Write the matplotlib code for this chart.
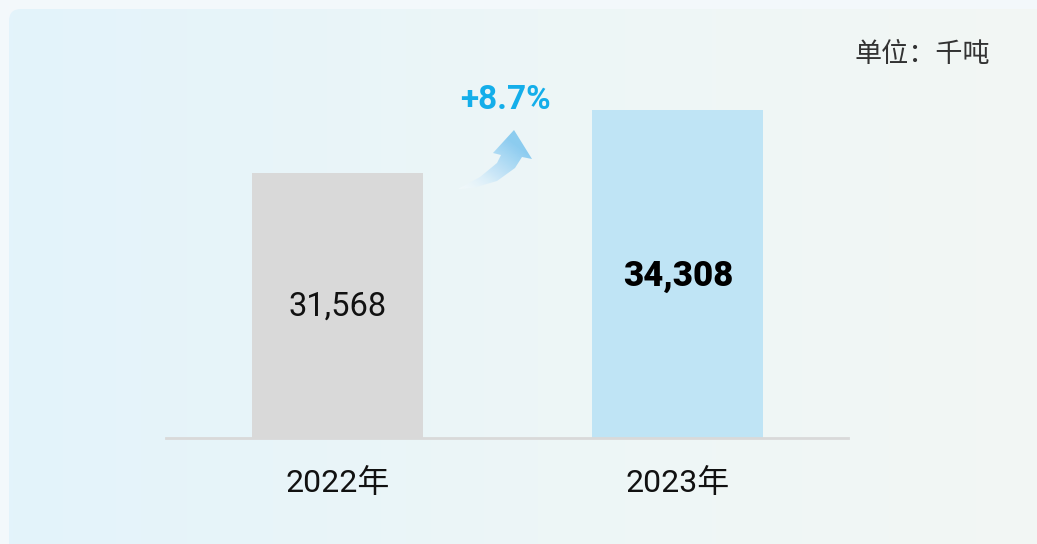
import numpy as np
import matplotlib.pyplot as plt
from matplotlib.patches import FancyBboxPatch, PathPatch
from matplotlib.path import Path
from matplotlib.colors import LinearSegmentedColormap

plt.rcParams['font.family'] = ['Roboto', 'Noto Sans CJK SC', 'DejaVu Sans']

years = ['2022年', '2023年']
values = [31568, 34308]
value_labels = ['31,568', '34,308']
bar_colors = ['#d9d9d9', '#bfe4f5']
growth = '+8.7%'
unit = '单位：千吨'

W, H = 1037, 544
fig = plt.figure(figsize=(W / 100, H / 100), dpi=100)
fig.patch.set_facecolor('#f3f8fb')

# background panel with gradient
bg = fig.add_axes([0, 0, 1, 1])
bg.set_xlim(0, W)
bg.set_ylim(H, 0)
bg.axis('off')
grad = np.linspace(0, 1, 256).reshape(1, -1)
cmap_bg = LinearSegmentedColormap.from_list('bg', ['#e3f3fb', '#edf6f7', '#f3f7f4'])
im = bg.imshow(grad, cmap=cmap_bg, extent=[9, W + 30, H + 30, 9], aspect='auto', zorder=1)
panel = FancyBboxPatch((9, 9), W + 20, H + 20, boxstyle='round,pad=0,rounding_size=12',
                       transform=bg.transData, facecolor='none', edgecolor='none')
bg.add_patch(panel)
im.set_clip_path(panel)

# curved growth arrow (decoration)
verts = [(458, 189), (480, 177), (497, 163), (501, 155), (493, 153), (514, 130),
         (532, 159), (522, 157), (515, 168), (497, 181), (473, 188), (458, 189)]
arrow_path = Path(verts, [Path.MOVETO] + [Path.LINETO] * (len(verts) - 2) + [Path.CLOSEPOLY])
arrow_patch = PathPatch(arrow_path, facecolor='none', edgecolor='none', transform=bg.transData)
bg.add_patch(arrow_patch)
cmap_ar = LinearSegmentedColormap.from_list(
    'ar', [(1, 1, 1, 0.4), (0.78, 0.90, 0.97, 0.9), (0.55, 0.80, 0.94, 1.0)])
gx, gy = np.meshgrid(np.linspace(0, 1, 100), np.linspace(0, 1, 100))
gimg = np.clip((gx + (1 - gy)) / 1.5, 0, 1)
aim = bg.imshow(gimg, cmap=cmap_ar, extent=[455, 535, 190, 128], origin='upper', aspect='auto', zorder=3)
aim.set_clip_path(arrow_patch)

# bar chart
ax = fig.add_axes([0.160, 0.195, 0.658, 0.695])
ax.patch.set_alpha(0)
x = np.arange(len(years))
ax.bar(x, values, width=0.503, color=bar_colors, zorder=2)
ax.set_xlim(-0.504, 1.501)
ax.set_ylim(20042, 36484)
for s in ['top', 'right', 'left']:
    ax.spines[s].set_visible(False)
ax.spines['bottom'].set_color('#d9d9d9')
ax.spines['bottom'].set_linewidth(2)
ax.set_yticks([])
ax.set_xticks(x)
ax.set_xticklabels(years, fontsize=23, color='#111111')
ax.tick_params(axis='x', length=0, pad=22)

ax.text(x[0], 25740, value_labels[0], ha='center', va='center', fontsize=23.5, color='#111111')
ax.text(x[1], 27045, value_labels[1], ha='center', va='center', fontsize=25,
        fontweight='heavy', color='#000000')

fig.text(505 / W, 1 - 100 / H, growth, ha='center', va='center', fontsize=24,
         fontweight='bold', color='#14aeea')
fig.text(990 / W, 1 - 55 / H, unit, ha='right', va='center', fontsize=19.5, color='#333333')

fig.savefig('out.png', dpi=100, facecolor=fig.get_facecolor())
